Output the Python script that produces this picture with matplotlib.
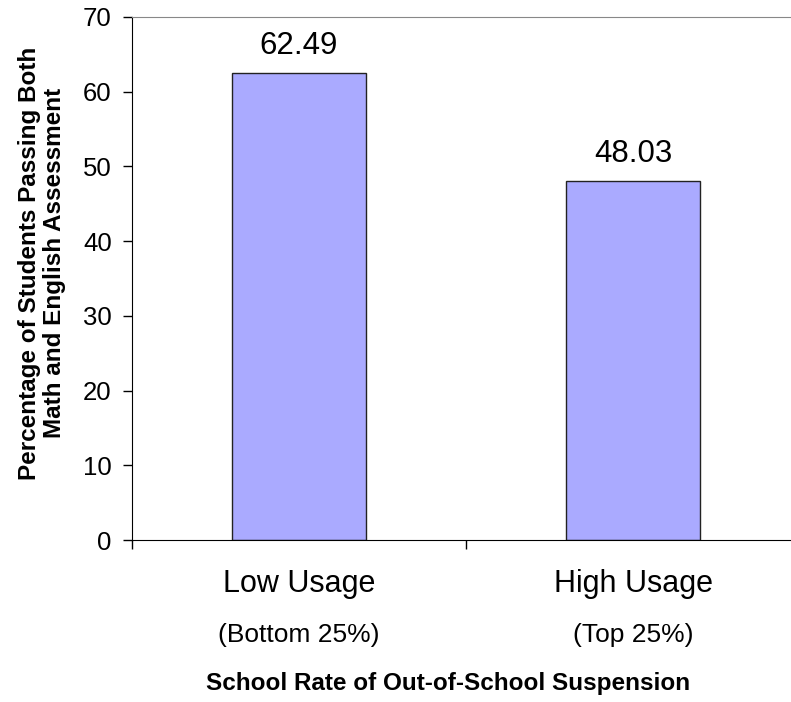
import matplotlib.pyplot as plt

plt.rcParams['font.family'] = ['Liberation Sans', 'DejaVu Sans']

# Data
categories = ['Low Usage', 'High Usage']
subtitles = ['(Bottom 25%)', '(Top 25%)']
values = [62.49, 48.03]

fig = plt.figure(figsize=(7.91, 7.02), dpi=100)
# axes spans a bit past the right edge of the figure, as in the original
ax = fig.add_axes([132 / 791, 162 / 702, 668 / 791, 523 / 702])

x = range(len(categories))
ax.bar(x, values, width=0.4, color='#AAAAFF', edgecolor='#222222', linewidth=1)

for xi, v in zip(x, values):
    ax.annotate(f'{v:.2f}', (xi, v), xytext=(0, 14), textcoords='offset points',
                ha='center', va='baseline', fontsize=22.5)

ax.set_xlim(-0.5, len(categories) - 0.5)
ax.set_ylim(0, 70)
ax.set_yticks(range(0, 71, 10))
ax.tick_params(axis='y', labelsize=18.5, length=6.5, width=1, pad=8)

# ticks sit on the category boundaries
ax.set_xticks([i - 0.5 for i in range(len(categories) + 1)])
ax.set_xticklabels([])
ax.tick_params(axis='x', length=6.5, width=1)

for xi, cat, sub in zip(x, categories, subtitles):
    ax.text(xi, -0.099, cat, transform=ax.get_xaxis_transform(),
            ha='center', va='baseline', fontsize=22)
    ax.text(xi, -0.195, sub, transform=ax.get_xaxis_transform(),
            ha='center', va='baseline', fontsize=19)

ax.text(0.473, -0.287, 'School Rate of Out-of-School Suspension',
        transform=ax.transAxes, ha='center', va='baseline',
        fontsize=17.5, fontweight='bold')
fig.text(42 / 791, (702 - 263) / 702,
         'Percentage of Students Passing Both\nMath and English Assessment',
         rotation=90, ha='center', va='center', multialignment='center',
         fontsize=17.5, fontweight='bold', linespacing=1.15)

ax.spines['top'].set_color('#888888')
ax.spines['right'].set_visible(False)
ax.spines['left'].set_color('black')
ax.spines['bottom'].set_color('black')

fig.savefig('out.png', dpi=100)
